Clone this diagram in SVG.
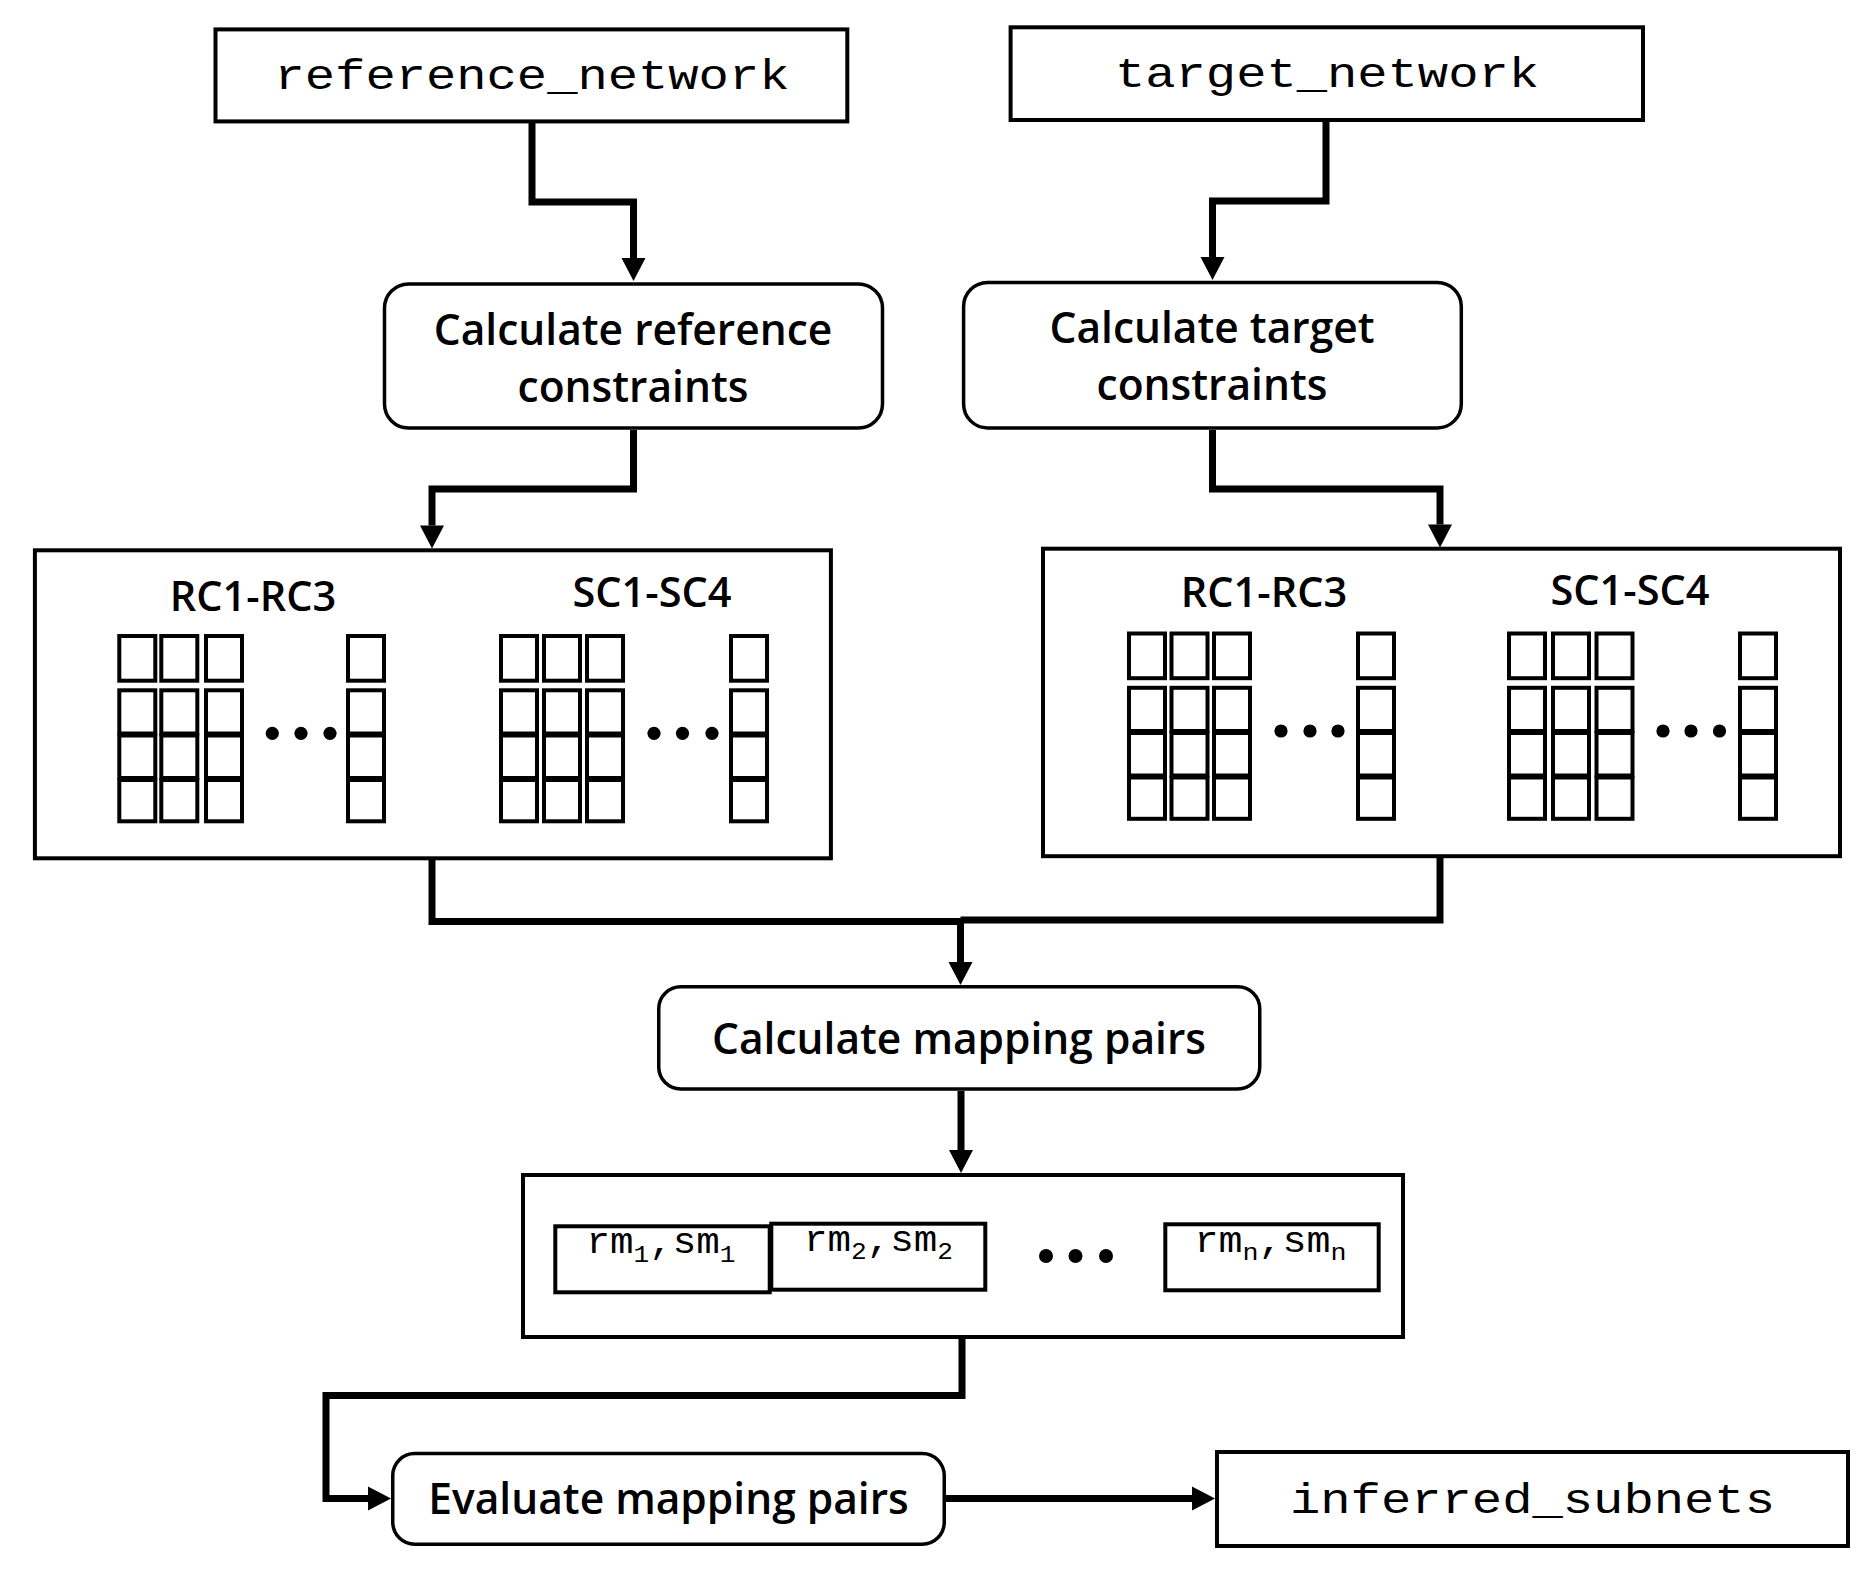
<svg xmlns="http://www.w3.org/2000/svg" xmlns:xlink="http://www.w3.org/1999/xlink" width="1876" height="1572" viewBox="0 0 1876 1572">
  <style>
    .box { fill: #fff; stroke: #000; stroke-width: 4; }
    .rbox { fill: #fff; stroke: #000; stroke-width: 3.5; }
    .cell { fill: none; stroke: #000; stroke-width: 4; }
    .conn { fill: none; stroke: #000; stroke-width: 7; stroke-linejoin: miter; }
    .lbl { font-family: 'Open Sans', 'Noto Sans', sans-serif; font-size: 42.5px; font-weight: 600; text-anchor: middle; fill: #000; }
    .hdr { font-family: 'Open Sans', 'Noto Sans', sans-serif; font-size: 41.5px; font-weight: 600; text-anchor: middle; fill: #000; }
    .mono { font-family: 'Liberation Mono', 'Courier New', monospace; font-size: 43px; text-anchor: middle; fill: #000; }
    .pair { font-family: 'Liberation Mono', 'Courier New', monospace; font-size: 36px; fill: #000; }
    .sub { font-size: 24px; }
    .dot { fill: #000; }
  </style>
  <defs>
    <marker id="ah" markerUnits="userSpaceOnUse" markerWidth="23" markerHeight="24" refX="0" refY="12" orient="auto" overflow="visible">
      <path d="M0,0 L23,12 L0,24 z" fill="#000"/>
    </marker>
    <g id="col">
      <rect class="cell" x="2" y="2" width="36" height="44.7"/>
      <rect class="cell" x="2" y="56.3" width="36" height="43.2"/>
      <rect class="cell" x="2" y="101.5" width="36" height="42.5"/>
      <rect class="cell" x="2" y="146" width="36" height="41.3"/>
    </g>
  </defs>
  <rect x="0" y="0" width="1876" height="1572" fill="#fff"/>

  <g id="connectors">
    <path class="conn" d="M532,123 V202 H633.5 V258" marker-end="url(#ah)"/>
    <path class="conn" d="M1326,121 V201 H1212.5 V257" marker-end="url(#ah)"/>
    <path class="conn" d="M633.5,430 V489 H432 V525.5" marker-end="url(#ah)"/>
    <path class="conn" d="M1212.5,430 V489 H1440 V524.5" marker-end="url(#ah)"/>
    <path class="conn" d="M432,860 V921.5 H960.5 V962" marker-end="url(#ah)"/>
    <path class="conn" d="M1440,858 V920 H960.5"/>
    <path class="conn" d="M961,1091 V1150" marker-end="url(#ah)"/>
    <path class="conn" d="M962,1339 V1395.5 H326 V1498.5 H368" marker-end="url(#ah)"/>
    <path class="conn" d="M946,1498.5 H1192" marker-end="url(#ah)"/>
  </g>

  <g id="reference_network">
    <rect class="box" x="215.5" y="29.4" width="631.8" height="92"/>
    <text class="mono" x="532" y="89" textLength="515" lengthAdjust="spacingAndGlyphs">reference_network</text>
  </g>

  <g id="target_network">
    <rect class="box" x="1010.6" y="27.3" width="632.4" height="92.7"/>
    <text class="mono" x="1327" y="86.5" textLength="424" lengthAdjust="spacingAndGlyphs">target_network</text>
  </g>

  <g id="calc_reference_constraints">
    <rect class="rbox" x="384.5" y="284" width="498" height="144" rx="24" ry="24"/>
    <text class="lbl" x="633" y="345">Calculate reference</text>
    <text class="lbl" x="633" y="402">constraints</text>
  </g>

  <g id="calc_target_constraints">
    <rect class="rbox" x="963.6" y="282.4" width="497.7" height="145.5" rx="24" ry="24"/>
    <text class="lbl" x="1212" y="343">Calculate target</text>
    <text class="lbl" x="1212" y="400">constraints</text>
  </g>

  <g id="reference_constraints">
    <rect class="box" x="34.9" y="550.3" width="796" height="308"/>
    <text class="hdr" x="253" y="611">RC1-RC3</text>
    <text class="hdr" x="652" y="607">SC1-SC4</text>
    <use xlink:href="#col" href="#col" x="117.3" y="634"/>
    <use xlink:href="#col" href="#col" x="159.3" y="634"/>
    <use xlink:href="#col" href="#col" x="204" y="634"/>
    <use xlink:href="#col" href="#col" x="346" y="634"/>
    <circle class="dot" cx="272.3" cy="733.3" r="6.6"/>
    <circle class="dot" cx="301" cy="733.3" r="6.6"/>
    <circle class="dot" cx="330" cy="733.3" r="6.6"/>
    <use xlink:href="#col" href="#col" x="499" y="634"/>
    <use xlink:href="#col" href="#col" x="542" y="634"/>
    <use xlink:href="#col" href="#col" x="585" y="634"/>
    <use xlink:href="#col" href="#col" x="729" y="634"/>
    <circle class="dot" cx="654" cy="733.3" r="6.6"/>
    <circle class="dot" cx="682.5" cy="733.3" r="6.6"/>
    <circle class="dot" cx="712" cy="733.3" r="6.6"/>
  </g>

  <g id="target_constraints">
    <rect class="box" x="1043" y="548.7" width="797" height="307.5"/>
    <text class="hdr" x="1264" y="607">RC1-RC3</text>
    <text class="hdr" x="1630" y="605">SC1-SC4</text>
    <use xlink:href="#col" href="#col" x="1127" y="631.5"/>
    <use xlink:href="#col" href="#col" x="1169.5" y="631.5"/>
    <use xlink:href="#col" href="#col" x="1212" y="631.5"/>
    <use xlink:href="#col" href="#col" x="1356" y="631.5"/>
    <circle class="dot" cx="1281" cy="731" r="6.6"/>
    <circle class="dot" cx="1310" cy="731" r="6.6"/>
    <circle class="dot" cx="1338" cy="731" r="6.6"/>
    <use xlink:href="#col" href="#col" x="1507" y="631.5"/>
    <use xlink:href="#col" href="#col" x="1551" y="631.5"/>
    <use xlink:href="#col" href="#col" x="1594.5" y="631.5"/>
    <use xlink:href="#col" href="#col" x="1738" y="631.5"/>
    <circle class="dot" cx="1663" cy="731" r="6.6"/>
    <circle class="dot" cx="1691" cy="731" r="6.6"/>
    <circle class="dot" cx="1719.5" cy="731" r="6.6"/>
  </g>

  <g id="calc_mapping_pairs">
    <rect class="rbox" x="658.75" y="986.75" width="601" height="102.2" rx="22" ry="22"/>
    <text class="lbl" x="959" y="1054">Calculate mapping pairs</text>
  </g>

  <g id="mapping_pairs">
    <rect class="box" x="523" y="1175" width="880" height="162"/>
    <rect class="box" x="555.3" y="1226.3" width="214.4" height="66"/>
    <rect class="box" x="771.3" y="1223.7" width="214" height="66"/>
    <rect class="box" x="1165.3" y="1224.3" width="213.4" height="66"/>
    <text class="pair" x="586.5" y="1253.3" textLength="149" lengthAdjust="spacingAndGlyphs">rm<tspan class="sub" dy="8.5">1</tspan><tspan dy="-8.5">,sm</tspan><tspan class="sub" dy="8.5">1</tspan></text>
    <text class="pair" x="804" y="1250.7" textLength="149" lengthAdjust="spacingAndGlyphs">rm<tspan class="sub" dy="8.5">2</tspan><tspan dy="-8.5">,sm</tspan><tspan class="sub" dy="8.5">2</tspan></text>
    <text class="pair" x="1194.5" y="1251.5" textLength="152" lengthAdjust="spacingAndGlyphs">rm<tspan class="sub" dy="8.5">n</tspan><tspan dy="-8.5">,sm</tspan><tspan class="sub" dy="8.5">n</tspan></text>
    <circle class="dot" cx="1046" cy="1256" r="7"/>
    <circle class="dot" cx="1075.5" cy="1256" r="7"/>
    <circle class="dot" cx="1106" cy="1256" r="7"/>
  </g>

  <g id="evaluate_mapping_pairs">
    <rect class="rbox" x="392.75" y="1453.5" width="551.5" height="90.7" rx="22" ry="22"/>
    <text class="lbl" x="668.5" y="1514">Evaluate mapping pairs</text>
  </g>

  <g id="inferred_subnets">
    <rect class="box" x="1217" y="1452" width="631" height="94"/>
    <text class="mono" x="1532.5" y="1513" textLength="485" lengthAdjust="spacingAndGlyphs">inferred_subnets</text>
  </g>
</svg>
